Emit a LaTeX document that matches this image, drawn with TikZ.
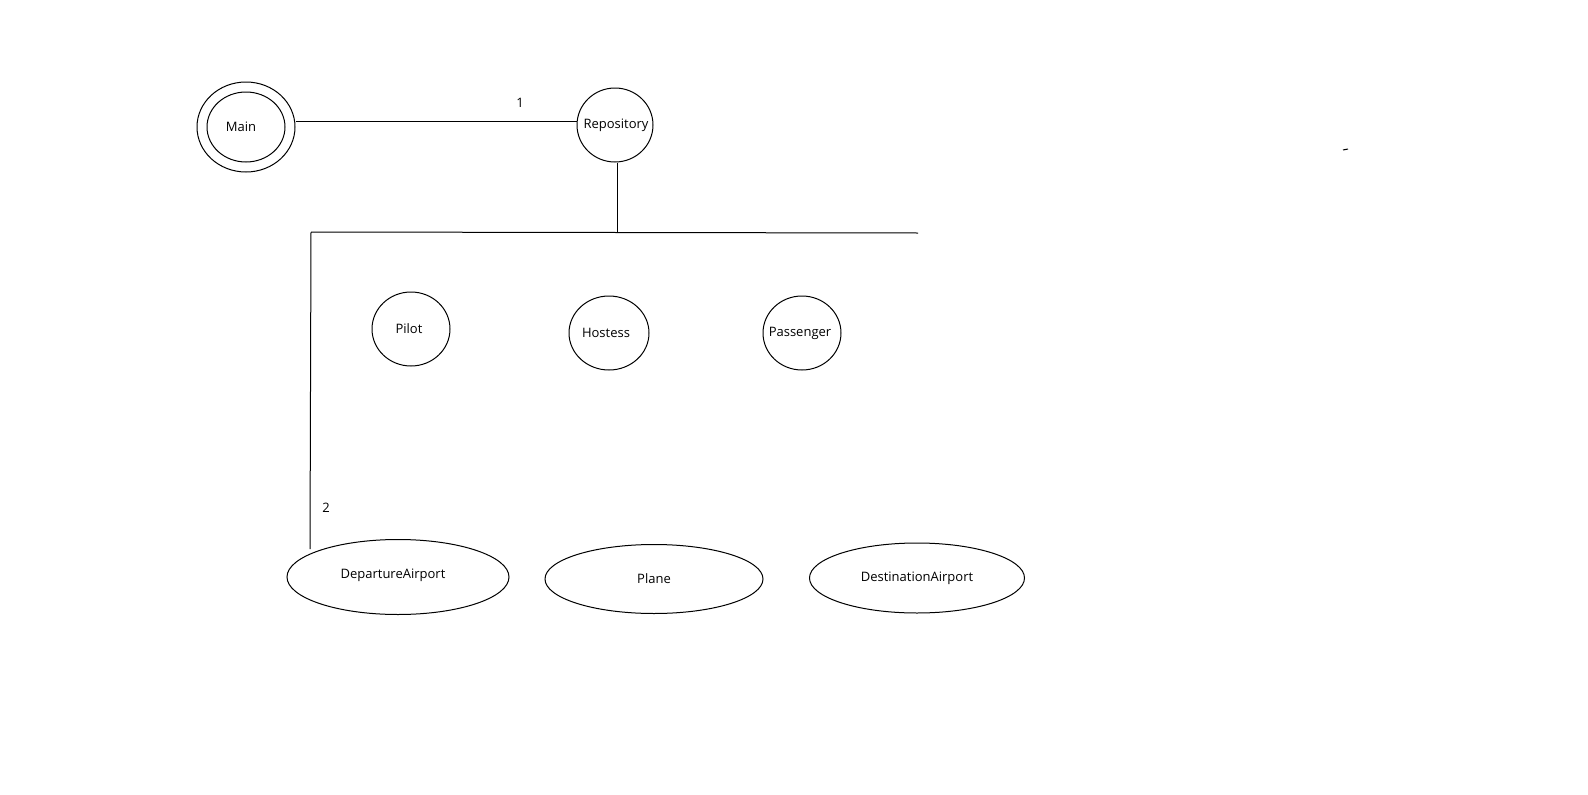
\documentclass[tikz,border=0pt]{standalone}
\usepackage{fontspec}
\setmainfont{Open Sans}
\usetikzlibrary{shapes.geometric}
\begin{document}
\begin{tikzpicture}[x=1pt,y=-1pt,
  every node/.style={font=\fontsize{13}{15}\selectfont},
  ent/.style={draw,ellipse,line width=1pt,inner sep=0pt},
  lnk/.style={line width=1pt},
  lbl/.style={inner sep=0pt}]
\useasboundingbox (0,0) rectangle (1588,795);
% Main
\node[ent,minimum width=98pt,minimum height=90pt] (mainout) at (246,127) {};
\node[ent,minimum width=78pt,minimum height=70pt,
      label={[lbl,xshift=-5pt]center:Main}] (main) at (246,127) {};
\node[ent,minimum width=76pt,minimum height=74pt,
      label={[lbl,xshift=1pt]center:Repository}] (repo) at (615,125) {};
% middle row
\node[ent,minimum width=78pt,minimum height=74pt,
      label={[lbl,xshift=-2pt]center:Pilot}] (pilot) at (411,329) {};
\node[ent,minimum width=80pt,minimum height=74pt,
      label={[lbl,xshift=-3pt]center:Hostess}] (hostess) at (609,333) {};
\node[ent,minimum width=78pt,minimum height=74pt,
      label={[lbl,xshift=-2pt]center:Passenger}] (passenger) at (802,333) {};
% bottom row
\node[ent,minimum width=222pt,minimum height=75pt,
      label={[lbl,xshift=-5pt,yshift=2pt]center:DepartureAirport}] (dep) at (398,577) {};
\node[ent,minimum width=218pt,minimum height=69pt,
      label={[lbl]center:Plane}] (plane) at (654,579) {};
\node[ent,minimum width=215pt,minimum height=70pt,
      label={[lbl]center:DestinationAirport}] (dest) at (917,578) {};
% coordinates
\coordinate (l1) at (0,121.5);
\coordinate (junc) at (617,232.5);
\coordinate (jl) at (311,232);
\coordinate (jr) at (918,233);
\coordinate (depend) at (310,549);
% connectors
\draw[lnk] (mainout.east |- l1) -- (repo.west |- l1);
\draw[lnk] (junc |- repo.south) -- (junc);
\draw[lnk] (jl) -- (junc) -- (jr);
\draw[lnk] (jl) -- (depend);
% labels
\node[lbl] (one) at (520,103) {1};
\node[lbl] (two) at (326,508) {2};
% tiny stray mark
\draw[lnk] (1343,150) -- (1348,149);
\end{tikzpicture}
\end{document}
